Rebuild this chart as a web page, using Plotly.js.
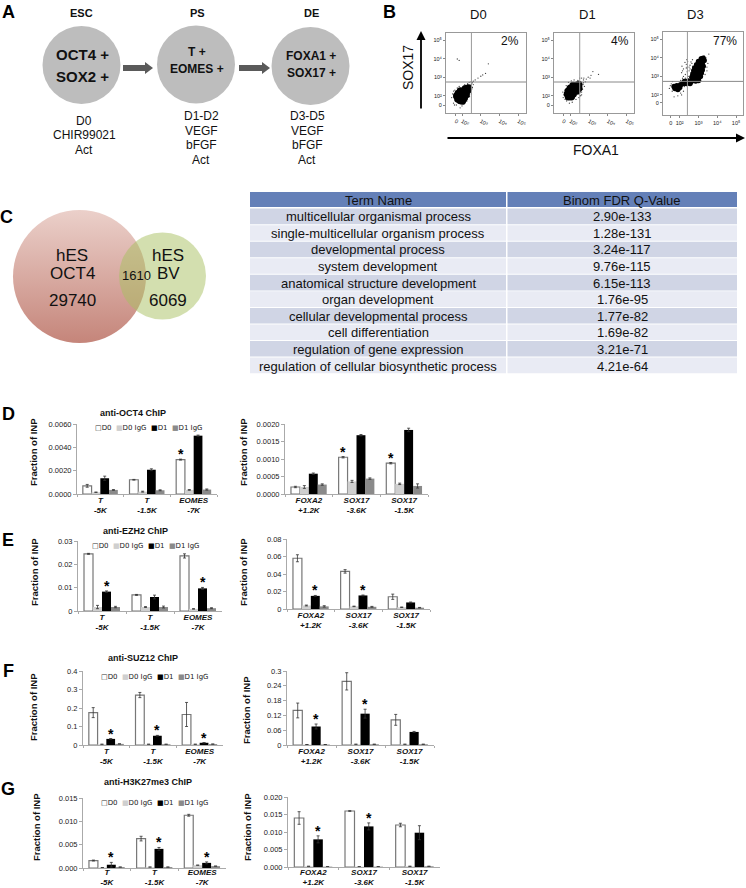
<!DOCTYPE html>
<html><head><meta charset="utf-8">
<script src="https://cdn.plot.ly/plotly-3.0.1.min.js"></script>
<style>html,body{margin:0;padding:0;background:#fff}</style></head>
<body><div id="chart" style="width:746px;height:888px"></div>
<script>
const W=746,H=888,FONT='"Liberation Sans", Arial, sans-serif';
// ---------- Bar chart data (rows: D0, D0 IgG, D1, D1 IgG) ----------
const seriesNames=['D0','D0 IgG','D1','D1 IgG'];
const catsEarly=['T<br>-5K','T<br>-1.5K','EOMES<br>-7K'];
const catsLate=['FOXA2<br>+1.2K','SOX17<br>-3.6K','SOX17<br>-1.5K'];
const oct4LeftVals=[[.0007,.00122,.00295],[.00015,.0002,.00035],[.00135,.00208,.0050],[.00035,.00032,.00038]];
const oct4LeftErrs=[[.00012,.00003,.00004],[.00002,.00004,.00003],[.00018,.00008,.00005],[.00003,.00004,.00005]];
const oct4RightVals=[[.0002,.00105,.00088],[.0002,.00036,.00029],[.00058,.00168,.00183],[.00027,.00044,.00023]];
const oct4RightErrs=[[.00002,.00002,.00002],[.00004,.00003,.00002],[.00002,.00002,.00005],[.00002,.00002,.00006]];
const ezh2LeftVals=[[.0245,.0069,.0236],[.0017,.0017,.0009],[.0083,.006,.0097],[.0017,.0017,.0012]];
const ezh2LeftErrs=[[.0002,.0002,.0009],[.0007,.0002,.0001],[.0003,.0008,.0004],[.0003,.0004,.0002]];
const ezh2RightVals=[[.058,.043,.014],[.004,.003,.002],[.015,.0155,.0075],[.003,.0025,.0015]];
const ezh2RightErrs=[[.004,.002,.003],[.0005,.0003,.0003],[.0005,.0005,.0005],[.0008,.0005,.0003]];
const suz12LeftVals=[[.175,.27,.165],[.004,.004,.004],[.033,.05,.012],[.006,.004,.005]];
const suz12LeftErrs=[[.027,.014,.065],[0,0,0],[.002,.002,.001],[0,0,0]];
const suz12RightVals=[[.14,.258,.102],[.002,.003,.003],[.075,.127,.053],[.002,.003,.003]];
const suz12RightErrs=[[.03,.035,.022],[0,0,0],[.01,.018,.002],[0,0,0]];
const h3k27LeftVals=[[.0016,.0063,.0113],[.0001,.0002,.0006],[.0007,.0041,.0011],[.0002,.0002,.0004]];
const h3k27LeftErrs=[[.0001,.0005,.0002],[0,0,0],[.0005,.0003,.0002],[0,0,0]];
const h3k27RightVals=[[.014,.016,.012],[.0002,.0001,.0002],[.0079,.0116,.0098],[.0001,.0001,.0002]];
const h3k27RightErrs=[[.0018,.0001,.0005],[0,0,0],[.001,.001,.002],[0,0,0]];
// ---------- Flow cytometry points (log10 units, read by eye) ----------
const d0CoreX=[1.78,1.9,2.02,1.72,1.85,2.0,2.12,1.8,1.95,2.1,2.22,1.92,2.08,2.22,2.3,2.18,2.35];
const d0CoreY=[1.82,1.75,1.72,1.98,1.95,1.9,1.88,2.12,2.1,2.05,2.05,2.25,2.22,2.22,2.3,2.38,2.42];
const d0SparseX=[2.42,2.5,2.55,2.6,2.7,2.85,3.0,3.1,3.25,3.4,1.75,1.85,1.55,1.6,1.9,2.0,1.45,2.5,2.45,2.3,1.5,1.55,1.62,1.7,2.1,2.25,2.4,2.5,2.6,2.55,1.75,1.85,2.3,2.15,2.38,2.48];
const d0SparseY=[2.55,2.62,2.7,2.78,2.85,2.95,3.05,3.12,3.2,3.72,3.98,3.9,1.6,1.5,1.35,1.45,1.9,2.35,2.2,2.6,2.1,2.25,2.3,1.5,1.55,1.7,1.95,2.1,2.6,2.45,2.42,2.5,2.65,2.6,2.72,2.75];
const d1CoreX=[1.9,2.05,1.85,2.0,2.15,1.9,2.05,2.2,2.35,2.0,2.15,2.3,2.45,2.15,2.3,2.45];
const d1CoreY=[1.95,1.95,2.1,2.1,2.1,2.25,2.25,2.25,2.25,2.4,2.4,2.4,2.4,2.55,2.55,2.6];
const d1SparseX=[2.55,2.7,2.85,2.95,3.1,3.2,3.5,2.6,1.8,1.65,2.1,1.95,2.6,2.75,2.7,2.65,1.7,2.55,3.05,1.6,1.62,1.72,2.3,2.45,2.6,2.68,1.78,1.9,2.05,2.2,2.72,2.8,2.5,2.4];
const d1SparseY=[2.72,2.85,2.9,3.0,3.1,3.3,3.15,2.95,1.72,2.05,1.65,1.6,2.2,2.5,2.7,2.35,2.3,2.0,2.95,2.2,1.9,1.8,1.8,1.9,2.05,2.6,2.55,2.72,2.8,2.85,2.95,2.75,2.95,2.82];
const d3CoreX=[1.75,1.9,2.0,1.85,2.05,1.7,2.2,2.25,2.45,2.6,2.35,2.55,2.7,2.85,3.0,2.65,2.8,2.95,3.1,2.7,2.85,3.0,3.15,2.75,2.9,3.05,3.2,2.8,2.95,3.1,3.25,2.9,3.05,3.2,3.0,3.15,3.3,3.15,3.25];
const d3CoreY=[2.35,2.3,2.4,2.5,2.55,2.45,2.62,2.72,2.75,2.72,2.62,2.62,2.78,2.75,2.78,2.95,2.95,2.98,3.0,3.12,3.15,3.15,3.18,3.3,3.32,3.35,3.35,3.45,3.5,3.5,3.55,3.62,3.68,3.72,3.8,3.82,3.85,3.95,3.98];
const d3SparseX=[2.1,2.2,2.3,2.4,2.5,2.2,2.45,2.6,2.55,2.35,2.65,3.4,3.55,3.3,1.6,1.7,1.9,2.1,2.2,2.25,2.05,2.15,2.35,2.5,2.7,1.5,2.3,2.55,3.35,3.45,1.45,1.55,1.62,2.05,2.15,2.4,2.55,2.7,3.45,3.5,2.28,2.42,2.6,2.68,2.12,2.38];
const d3SparseY=[3.2,3.4,3.1,3.5,3.3,3.0,3.0,3.2,3.6,3.65,3.7,4.0,4.2,4.1,2.2,1.9,1.95,2.0,2.2,2.45,2.1,3.3,3.45,3.5,3.55,2.5,2.9,2.95,3.1,3.3,2.35,2.6,2.72,2.78,2.9,3.25,3.4,3.5,3.5,3.7,3.75,3.8,3.78,3.9,3.55,3.9];
const flowPercents=['2%','4%','77%'];
const flowDays=['D0','D1','D3'];
const flowTickText=['0','10²','10³','10⁴','10⁵'];
// ---------- Table ----------
const tableHeader=['Term Name','Binom FDR Q-Value'];
const termNames=['multicellular organismal process','single-multicellular organism process','developmental process','system development','anatomical structure development','organ development','cellular developmental process','cell differentiation','regulation of gene expression','regulation of cellular biosynthetic process'];
const qValues=['2.90e-133','1.28e-131','3.24e-117','9.76e-115','6.15e-113','1.76e-95','1.77e-82','1.69e-82','3.21e-71','4.21e-64'];

const traces=[],annotations=[],shapes=[],layout={};
const dx=(a,b)=>[a/W,b/W], dy=(top,bot)=>[1-bot/H,1-top/H];
function note(text,x,y,size,opts={}){
  annotations.push(Object.assign({text,xref:'paper',yref:'paper',x:x/W,y:1-y/H,xanchor:'center',yanchor:'middle',showarrow:false,
    font:{family:FONT,size,color:'#111'}},opts));
}
// ---------- Overlay for diagrams (pixel scale) ----------
layout.xaxis={domain:[0,1],range:[0,W],visible:false,fixedrange:true};
layout.yaxis={domain:[0,1],range:[H,0],visible:false,fixedrange:true};
traces.push({type:'scatter',mode:'markers',x:[81.5,196,310.5],y:[65,64.5,66],xaxis:'x',yaxis:'y',hoverinfo:'skip',
  marker:{size:78,color:'#bdbdbd',opacity:1,line:{width:0}}});
traces.push({type:'scatter',mode:'markers',x:[79.5],y:[276.5],xaxis:'x',yaxis:'y',hoverinfo:'skip',
  marker:{size:133,color:'#ebd0ca',gradient:{type:'vertical',color:'#c5857a'},line:{width:0}}});
traces.push({type:'scatter',mode:'markers',x:[162.5],y:[276],xaxis:'x',yaxis:'y',hoverinfo:'skip',
  marker:{size:87,color:'#a8c060',opacity:.5,line:{width:0}}});
function blockArrow(x0,x1,yc){
  const hx=x1-8;
  shapes.push({type:'path',xref:'x',yref:'y',fillcolor:'#5a5a5a',line:{width:0},
    path:`M${x0},${yc-3} L${hx},${yc-3} L${hx},${yc-6} L${x1},${yc} L${hx},${yc+6} L${hx},${yc+3} L${x0},${yc+3} Z`});
}
blockArrow(123,153,68); blockArrow(239,270,68);
[['A',8,12],['B',389,12],['C',7,217],['D',8,414],['E',8,540],['F',8,671],['G',8,789]].forEach(p=>note('<b>'+p[0]+'</b>',p[1],p[2],18,{font:{family:FONT,size:18,color:'#000'}}));
note('<b>ESC</b>',81,13,11); note('<b>PS</b>',197,13,11); note('<b>DE</b>',311,13,11);
note('<b>OCT4 +</b>',82,54,15); note('<b>SOX2 +</b>',82,76,15);
note('<b>T +</b>',197,52,12); note('<b>EOMES +</b>',197,69,12);
note('<b>FOXA1 +</b>',311,56,12); note('<b>SOX17 +</b>',311,73,12);
['D0','CHIR99021','Act'].forEach((t,i)=>note(t,84,[121,135,150][i],12));
['D1-D2','VEGF','bFGF','Act'].forEach((t,i)=>note(t,201,[116,131,145,160][i],12));
['D3-D5','VEGF','bFGF','Act'].forEach((t,i)=>note(t,307,[116,131,145,160][i],12));
note('hES',72,255,17); note('OCT4',72,273,17); note('29740',72,300,17);
note('hES',168,255,17); note('BV',168,273,17); note('6069',168,300,17); note('1610',136,275,13);
// ---------- Table ----------
function cellRect(x0,x1,y0,y1,color){
  shapes.push({type:'rect',xref:'x',yref:'y',x0,x1,y0,y1,fillcolor:color,line:{width:0},layer:'below'});
}
cellRect(250,506,192,207,'#6480b8'); cellRect(507.5,737,192,207,'#6480b8');
note(tableHeader[0],378,201,13); note(tableHeader[1],622,201,13);
termNames.forEach((t,i)=>{
  const top=208.6+i*16.55, c=i%2?'#e9ebf4':'#d0d5e5';
  cellRect(250,506,top,top+15.6,c); cellRect(507.5,737,top,top+15.6,c);
  note(t,378,216.7+i*16.6,13); note(qValues[i],622,216.7+i*16.6,13);
});
// ---------- Flow panels ----------
let axN=2;
const flowPanels=[
 {x0:446,x1:526,y0:33,y1:113,xr:[1.15,5.40],yr:[1.07,5.38],zx:1.66,zy:1.5,vg:2.5,hg:2.74,cx:d0CoreX,cy:d0CoreY,sx:d0SparseX,sy:d0SparseY,lab:478,pct:510},
 {x0:554,x1:634,y0:33,y1:113,xr:[1.13,5.39],yr:[1.07,5.38],zx:1.61,zy:1.5,vg:2.5,hg:2.74,cx:d1CoreX,cy:d1CoreY,sx:d1SparseX,sy:d1SparseY,lab:587,pct:620},
 {x0:663,x1:743,y0:32,y1:115,xr:[1.11,5.37],yr:[.92,5.39],zx:1.53,zy:1.57,vg:2.41,hg:2.73,cx:d3CoreX,cy:d3CoreY,sx:d3SparseX,sy:d3SparseY,lab:695,pct:725}];
flowPanels.forEach((p,i)=>{
  const n=axN++, xa='x'+n, ya='y'+n;
  const common={showgrid:false,zeroline:false,showline:true,mirror:true,linecolor:'#999',linewidth:1,ticks:'outside',ticklen:2,tickwidth:.7,tickcolor:'#555',tickfont:{family:FONT,size:5.5,color:'#222'},tickmode:'array',fixedrange:true};
  layout['xaxis'+n]=Object.assign({},common,{domain:dx(p.x0,p.x1),anchor:ya,range:p.xr,tickvals:[p.zx,2,3,4,5],ticktext:flowTickText});
  layout['yaxis'+n]=Object.assign({},common,{domain:dy(p.y0,p.y1),anchor:xa,range:p.yr,tickvals:[p.zy,2,3,4,5],ticktext:flowTickText});
  shapes.push({type:'line',xref:xa,yref:ya,x0:p.vg,x1:p.vg,y0:p.yr[0],y1:p.yr[1],line:{color:'#999',width:1}});
  shapes.push({type:'line',xref:xa,yref:ya,x0:p.xr[0],x1:p.xr[1],y0:p.hg,y1:p.hg,line:{color:'#888',width:1}});
  traces.push({type:'scatter',mode:'markers',x:p.sx,y:p.sy,xaxis:xa,yaxis:ya,hoverinfo:'skip',marker:{size:1.3,color:'#444',line:{width:0}}});
  traces.push({type:'scatter',mode:'markers',x:p.cx,y:p.cy,xaxis:xa,yaxis:ya,hoverinfo:'skip',marker:{size:i==2?5.5:7.5,color:'#000',line:{width:0}}});
  note(flowDays[i],p.lab,15,13);
  note(flowPercents[i],p.pct,41,12);
});
note('SOX17',408,68,14,{textangle:-90}); note('FOXA1',596,150,14);
const arrowFont={showarrow:true,arrowhead:2,arrowsize:1,arrowwidth:1.8,arrowcolor:'#000',axref:'pixel',ayref:'pixel',xref:'paper',yref:'paper',text:''};
annotations.push(Object.assign({},arrowFont,{x:421/W,y:1-31/H,ax:0,ay:79}));
annotations.push(Object.assign({},arrowFont,{x:745/W,y:1-138/H,ax:-299,ay:0}));
// ---------- Bar panels ----------
const fills=['#ffffff','#cfcfcf','#000000','#8a8a8a'];
const lines=[{color:'#777',width:1.2},{width:0},{width:0},{width:0}];
const barGap=.25, barW=(1-barGap)/4;
function barPanel(o){
  const n=axN++, xa='x'+n, ya='y'+n;
  layout['xaxis'+n]={domain:dx(o.x0,o.x1),anchor:ya,type:'category',categoryorder:'array',categoryarray:o.cats,range:[-.5,2.5],showline:true,linecolor:'#aaa',linewidth:1,
    showgrid:false,zeroline:false,ticks:'outside',tickson:'boundaries',ticklen:2,tickcolor:'#aaa',fixedrange:true,ticklabelstandoff:o.ls||-2,
    tickfont:{family:FONT,size:8,color:'#111',weight:700,style:'italic'}};
  layout['yaxis'+n]={domain:dy(o.y0,o.y1),anchor:xa,range:[0,o.max],tickmode:'array',tickvals:o.ticks,ticktext:o.labels,showline:true,linecolor:'#aaa',linewidth:1,
    showgrid:false,zeroline:false,ticks:'outside',ticklen:3,tickcolor:'#aaa',fixedrange:true,tickfont:{family:FONT,size:7.5,color:'#222'}};
  seriesNames.forEach((s,i)=>traces.push({type:'bar',name:s,showlegend:false,x:o.cats,y:o.vals[i],xaxis:xa,yaxis:ya,hoverinfo:'skip',
    marker:{color:fills[i],line:lines[i]},
    error_y:{type:'data',array:o.errs[i],visible:true,color:'#333',thickness:.8,width:1.5}}));
  (o.stars||[]).forEach(st=>{
    const [s,c]=st;
    annotations.push({text:'<b>*</b>',xref:xa,yref:ya,x:c+(s-1.5)*barW,y:o.vals[s][c]+o.errs[s][c],yshift:5,showarrow:false,xanchor:'center',yanchor:'middle',font:{family:FONT,size:14,color:'#000'}});
  });
  note('<b>Fraction of INP</b>',o.fx,o.fy,9.5,{textangle:-90});
  if(o.title){
    note('<b>'+o.title+'</b>',o.tx,o.ty,9);
    const sq=['□','■','■','■'], col=['#333','#cfcfcf','#000','#8a8a8a'];
    const txt=seriesNames.map((s,i)=>`<span style="color:${col[i]}">${sq[i]}</span>${s}`).join('&nbsp;&nbsp;');
    note(txt,o.lx,o.ly,7,{font:{family:'"DejaVu Sans", '+FONT,size:7,color:'#222'}});
  }
}
const early=catsEarly, late=catsLate;
barPanel({x0:77,x1:217,y0:424,y1:494,cats:early,max:.006,ticks:[0,.002,.004,.006],labels:['0.0000','0.0020','0.0040','0.0060'],vals:oct4LeftVals,errs:oct4LeftErrs,fx:33,fy:452,stars:[[0,2]],title:'anti-OCT4 ChIP',tx:133,ty:413,lx:149,ly:428});
barPanel({x0:285,x1:428,y0:424,y1:494,cats:late,max:.002,ticks:[0,.0005,.001,.0015,.002],labels:['0.0000','0.0005','0.0010','0.0015','0.0020'],vals:oct4RightVals,errs:oct4RightErrs,fx:243,fy:452,stars:[[0,1],[0,2]]});
barPanel({x0:78,x1:222,y0:541,y1:611,cats:early,max:.03,ticks:[0,.01,.02,.03],labels:['0','0.01','0.02','0.03'],vals:ezh2LeftVals,errs:ezh2LeftErrs,fx:34,fy:572,stars:[[2,0],[2,2]],title:'anti-EZH2 ChIP',tx:135,ty:531,lx:145.5,ly:546});
barPanel({x0:287,x1:430,y0:539,y1:609,cats:late,max:.08,ticks:[0,.02,.04,.06,.08],labels:['0','0.02','0.04','0.06','0.08'],vals:ezh2RightVals,errs:ezh2RightErrs,fx:243,fy:572,stars:[[2,0],[2,1]]});
barPanel({x0:83,x1:223,y0:671,y1:745,cats:early,max:.4,ticks:[0,.1,.2,.3,.4],labels:['0','0.1','0.2','0.3','0.4'],vals:suz12LeftVals,errs:suz12LeftErrs,fx:33,fy:707,stars:[[2,0],[2,1],[2,2]],title:'anti-SUZ12 ChIP',tx:143,ty:658,lx:155,ly:677});
barPanel({x0:287,x1:434,y0:671,y1:745,cats:late,max:.3,ticks:[0,.06,.12,.18,.24,.3],labels:['0','0.06','0.12','0.18','0.24','0.3'],vals:suz12RightVals,errs:suz12RightErrs,fx:246,fy:710,stars:[[2,0],[2,1]]});
barPanel({x0:83,x1:226,y0:798,y1:868,cats:early,max:.015,ticks:[0,.005,.01,.015],labels:['0.000','0.005','0.010','0.015'],vals:h3k27LeftVals,errs:h3k27LeftErrs,fx:36,fy:827,ls:-4,stars:[[2,0],[2,1],[2,2]],title:'anti-H3K27me3 ChIP',tx:148,ty:782,lx:154.5,ly:803});
barPanel({x0:288,x1:440,y0:797,y1:867,cats:late,max:.02,ticks:[0,.005,.01,.015,.02],labels:['0.000','0.005','0.010','0.015','0.020'],vals:h3k27RightVals,errs:h3k27RightErrs,fx:247,fy:827,ls:-3,stars:[[2,0],[2,1]]});

Object.assign(layout,{width:W,height:H,margin:{l:0,r:0,t:0,b:0},paper_bgcolor:'#fff',plot_bgcolor:'rgba(0,0,0,0)',showlegend:false,
  barmode:'group',bargap:barGap,bargroupgap:0,annotations,shapes,hovermode:false,font:{family:FONT}});
Plotly.newPlot('chart',traces,layout,{displayModeBar:false,staticPlot:true});
</script></body></html>
